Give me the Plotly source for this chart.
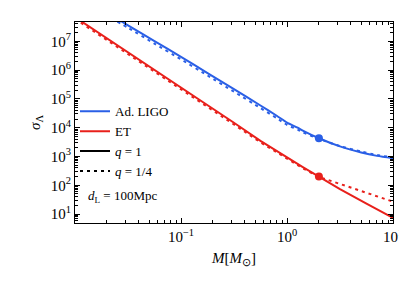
import plotly.graph_objects as go

# Mass grid (solar masses) and sigma_Lambda values
M_ligo = [0.0251, 0.0316, 0.0562, 0.1, 0.178, 0.316, 0.562, 0.8, 1.0, 1.26, 1.41, 2.0, 3.16, 5.01, 7.08, 10.0]
ligo_q1 = [6.0e7, 3.6e7, 1.02e7, 2.9e6, 7.9e5, 2.2e5, 5.9e4, 2.6e4, 1.5e4, 1.0e4, 7.9e3, 4.3e3, 2.24e3, 1.38e3, 1.05e3, 870]
ligo_q14 = [4.8e7, 2.95e7, 8.3e6, 2.35e6, 6.5e5, 1.78e5, 4.8e4, 2.15e4, 1.25e4, 8.6e3, 6.9e3, 4.1e3, 2.29e3, 1.48e3, 1.12e3, 930]

M_et = [0.01, 0.0178, 0.0316, 0.0562, 0.1, 0.178, 0.316, 0.562, 1.0, 1.41, 2.0, 3.16, 5.62, 10.0]
et_q1 = [6.9e7, 1.7e7, 4.2e6, 1.05e6, 2.57e5, 6.3e4, 1.48e4, 3.5e3, 910, 430, 200, 74, 23, 7.4]
et_q14 = [6.0e7, 1.48e7, 3.6e6, 9.1e5, 2.24e5, 5.5e4, 1.29e4, 3.1e3, 810, 390, 195, 112, 54, 27]

M_dot = [2.0]
ligo_dot = [4.3e3]
et_dot = [200]

x_ticks = [0.1, 1, 10]
x_ticktext = ["10<sup>−1</sup>", "10<sup>0</sup>", "10<sup>1</sup>"]
y_ticks = [1e1, 1e2, 1e3, 1e4, 1e5, 1e6, 1e7]
y_ticktext = ["10<sup>%d</sup>" % k for k in range(1, 8)]

x_minor = [m * 10.0 ** e for e in range(-2, 1) for m in range(2, 10)]
y_minor = [m * 10.0 ** e for e in range(0, 8) for m in range(2, 10)]

BLUE = "#2a5fe6"
RED = "#e8201b"
DOT = "3px,4px"
FONT = "Liberation Serif"

fig = go.Figure()
fig.add_trace(go.Scatter(x=M_ligo, y=ligo_q1, mode="lines", line=dict(color=BLUE, width=2, shape="spline", smoothing=0.6), showlegend=False))
fig.add_trace(go.Scatter(x=M_ligo, y=ligo_q14, mode="lines", line=dict(color=BLUE, width=2, dash=DOT, shape="spline", smoothing=0.6), showlegend=False))
fig.add_trace(go.Scatter(x=M_et, y=et_q1, mode="lines", line=dict(color=RED, width=2), showlegend=False))
fig.add_trace(go.Scatter(x=M_et, y=et_q14, mode="lines", line=dict(color=RED, width=2, dash=DOT), showlegend=False))
fig.add_trace(go.Scatter(x=M_dot, y=ligo_dot, mode="markers", marker=dict(color=BLUE, size=8), showlegend=False))
fig.add_trace(go.Scatter(x=M_dot, y=et_dot, mode="markers", marker=dict(color=RED, size=8), showlegend=False))

# legend entries
fig.add_trace(go.Scatter(x=[None], y=[None], mode="lines", name="Ad. LIGO", line=dict(color=BLUE, width=2)))
fig.add_trace(go.Scatter(x=[None], y=[None], mode="lines", name="ET", line=dict(color=RED, width=2)))
fig.add_trace(go.Scatter(x=[None], y=[None], mode="lines", name="<i>q</i> = 1", line=dict(color="black", width=2)))
fig.add_trace(go.Scatter(x=[None], y=[None], mode="lines", name="<i>q</i> = 1/4", line=dict(color="black", width=2, dash=DOT)))

axis_common = dict(
    type="log", showline=True, linecolor="black", linewidth=1, mirror="allticks",
    ticks="inside", ticklen=5, tickwidth=1, tickcolor="black",
    showgrid=False, zeroline=False,
    tickfont=dict(family=FONT, size=15, color="black"),
)

fig.update_xaxes(**axis_common, range=[-2.0, 1.0], tickvals=x_ticks, ticktext=x_ticktext,
                 minor=dict(tickvals=x_minor, ticks="inside", ticklen=3, tickwidth=0.8, tickcolor="black", showgrid=False),
                 title=dict(text="<i>M</i>[<i>M</i><sub>⊙</sub>]", font=dict(family=FONT, size=15, color="black"), standoff=8))
fig.update_yaxes(**axis_common, range=[0.69, 7.67], tickvals=y_ticks, ticktext=y_ticktext,
                 minor=dict(tickvals=y_minor, ticks="inside", ticklen=3, tickwidth=0.8, tickcolor="black", showgrid=False),
                 title=dict(text="<i>σ</i><sub>Λ</sub>", font=dict(family=FONT, size=15, color="black"), standoff=6))

fig.add_annotation(x=0.035, y=0.13, xref="paper", yref="paper", xanchor="left", yanchor="middle",
                   text="<i>d</i><sub>L</sub> = 100Mpc", showarrow=False,
                   font=dict(family=FONT, size=13, color="black"))

fig.update_layout(
    width=407, height=283,
    margin=dict(l=67, r=14, t=14, b=68),
    plot_bgcolor="white", paper_bgcolor="white",
    legend=dict(x=0.0, y=0.63, xanchor="left", yanchor="top", bgcolor="rgba(0,0,0,0)",
                font=dict(family=FONT, size=13, color="black"), tracegroupgap=0, borderwidth=0),
    showlegend=True,
)

fig.write_html("out.html")
